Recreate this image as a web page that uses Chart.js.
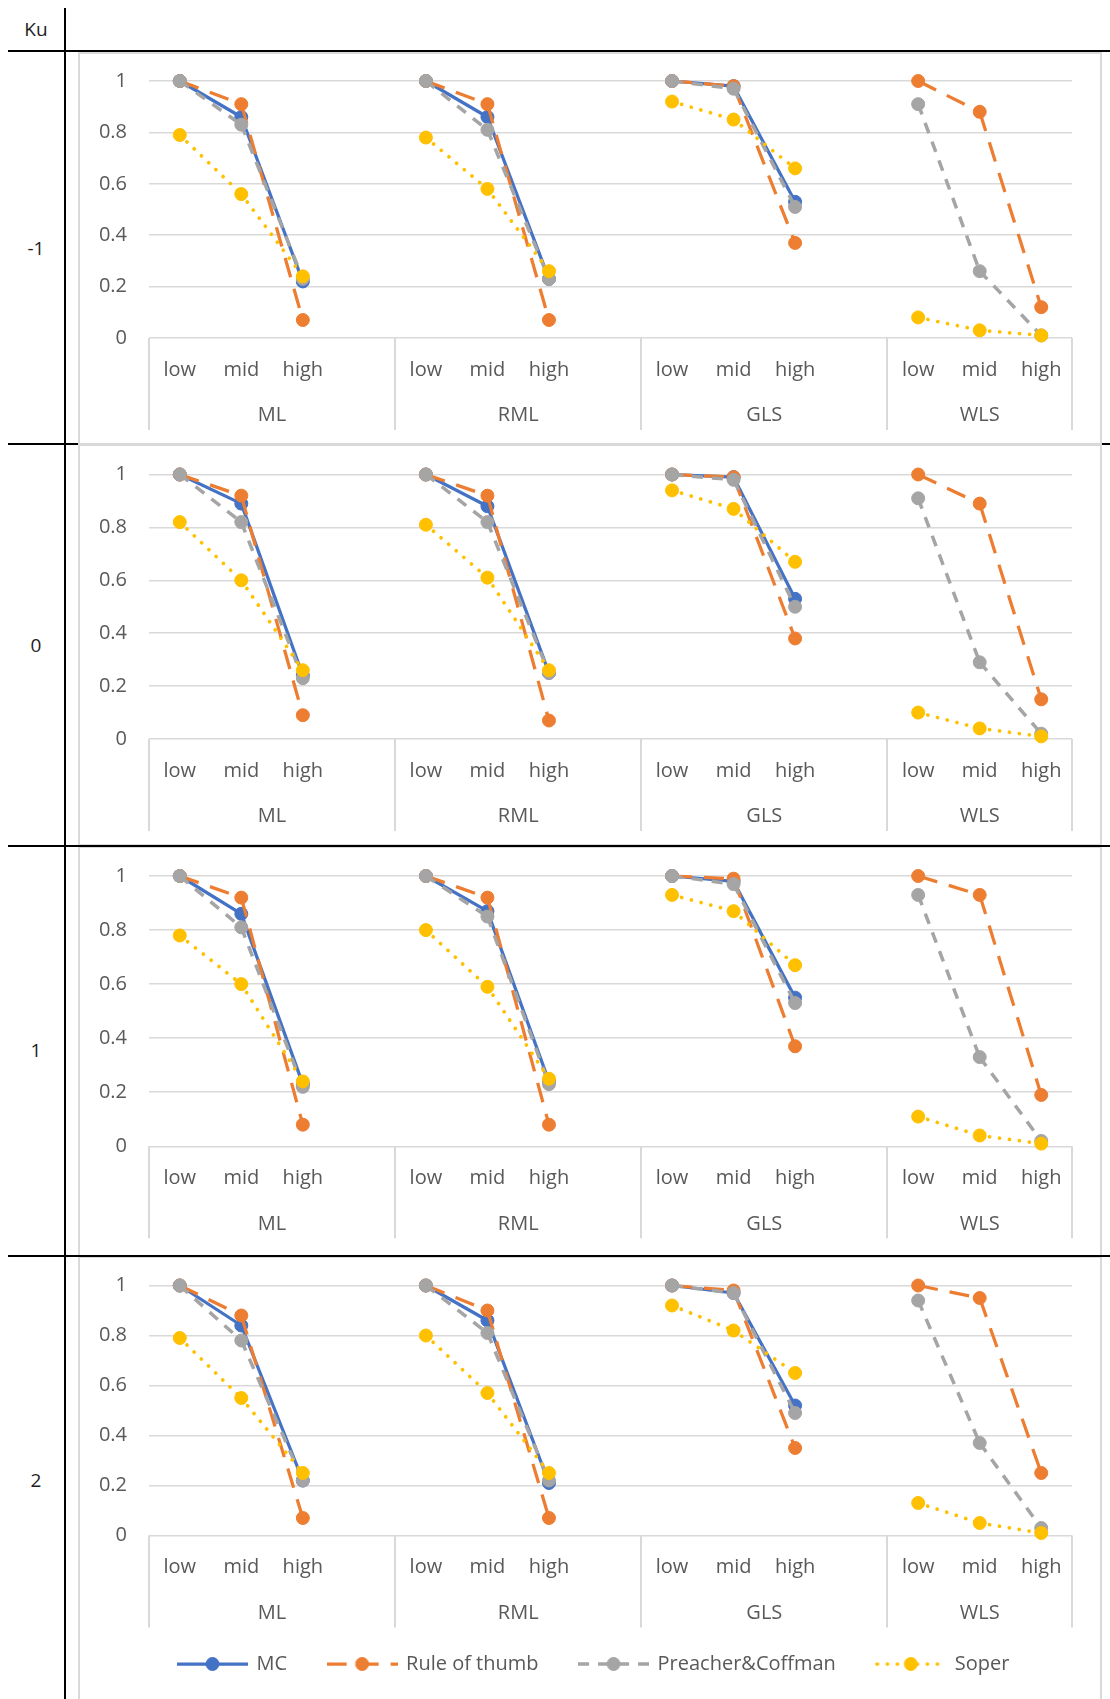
<!DOCTYPE html>
<html>
<head>
<meta charset="utf-8">
<title>Ku panels</title>
<script src="https://cdn.jsdelivr.net/npm/chart.js@4.4.1/dist/chart.umd.min.js"></script>
<style>
  html, body { margin: 0; padding: 0; background: #fff; }
  body { width: 1110px; height: 1699px; position: relative; overflow: hidden; font-family: "Open Sans", sans-serif; }
  .hline { position: absolute; left: 8px; right: 0; height: 2px; background: #000; }
  .vline { position: absolute; left: 64px; top: 8px; bottom: 0; width: 2px; background: #000; z-index: 3; }
  .rowlab { position: absolute; left: 0; width: 72px; text-align: center; font-size: 19px; line-height: 24px; color: #1e1e1e; transform: translateY(-50%); }
  .panel { position: absolute; left: 78px; width: 1024px; border: 2px solid #d9d9d9; box-sizing: border-box; background: #fff; z-index: 1; }
  .panel canvas { position: absolute; left: -2px; top: -2px; }
</style>
</head>
<body>
<div class="vline"></div>
<div class="rowlab" style="top:29px">Ku</div>

<script>
// ---- categories and tick labels ----
const kuLevels = ['-1', '0', '1', '2'];
const groups = ['ML', 'RML', 'GLS', 'WLS'];
const levels = ['low', 'mid', 'high'];
const seriesNames = ['MC', 'Rule of thumb', 'Preacher&Coffman', 'Soper'];
const yTickValues = [0, 0.2, 0.4, 0.6, 0.8, 1];
const yTickLabels = ['0', '0.2', '0.4', '0.6', '0.8', '1'];

// ---- series values, ordered ML, RML, GLS, WLS × low, mid, high ----
// Ku = -1
const mcKuNeg1    = [1.00, 0.86, 0.22,  1.00, 0.86, 0.23,  1.00, 0.98, 0.53,  null, null, null];
const ruleKuNeg1  = [1.00, 0.91, 0.07,  1.00, 0.91, 0.07,  1.00, 0.98, 0.37,  1.00, 0.88, 0.12];
const pcKuNeg1    = [1.00, 0.83, 0.23,  1.00, 0.81, 0.23,  1.00, 0.97, 0.51,  0.91, 0.26, 0.01];
const soperKuNeg1 = [0.79, 0.56, 0.24,  0.78, 0.58, 0.26,  0.92, 0.85, 0.66,  0.08, 0.03, 0.01];
// Ku = 0
const mcKu0       = [1.00, 0.89, 0.24,  1.00, 0.88, 0.25,  1.00, 0.99, 0.53,  null, null, null];
const ruleKu0     = [1.00, 0.92, 0.09,  1.00, 0.92, 0.07,  1.00, 0.99, 0.38,  1.00, 0.89, 0.15];
const pcKu0       = [1.00, 0.82, 0.23,  1.00, 0.82, 0.25,  1.00, 0.98, 0.50,  0.91, 0.29, 0.02];
const soperKu0    = [0.82, 0.60, 0.26,  0.81, 0.61, 0.26,  0.94, 0.87, 0.67,  0.10, 0.04, 0.01];
// Ku = 1
const mcKu1       = [1.00, 0.86, 0.23,  1.00, 0.87, 0.24,  1.00, 0.98, 0.55,  null, null, null];
const ruleKu1     = [1.00, 0.92, 0.08,  1.00, 0.92, 0.08,  1.00, 0.99, 0.37,  1.00, 0.93, 0.19];
const pcKu1       = [1.00, 0.81, 0.22,  1.00, 0.85, 0.23,  1.00, 0.97, 0.53,  0.93, 0.33, 0.02];
const soperKu1    = [0.78, 0.60, 0.24,  0.80, 0.59, 0.25,  0.93, 0.87, 0.67,  0.11, 0.04, 0.01];
// Ku = 2
const mcKu2       = [1.00, 0.84, 0.22,  1.00, 0.86, 0.21,  1.00, 0.97, 0.52,  null, null, null];
const ruleKu2     = [1.00, 0.88, 0.07,  1.00, 0.90, 0.07,  1.00, 0.98, 0.35,  1.00, 0.95, 0.25];
const pcKu2       = [1.00, 0.78, 0.22,  1.00, 0.81, 0.22,  1.00, 0.97, 0.49,  0.94, 0.37, 0.03];
const soperKu2    = [0.79, 0.55, 0.25,  0.80, 0.57, 0.25,  0.92, 0.82, 0.65,  0.13, 0.05, 0.01];

const panelSeries = [
  [mcKuNeg1, ruleKuNeg1, pcKuNeg1, soperKuNeg1],
  [mcKu0, ruleKu0, pcKu0, soperKu0],
  [mcKu1, ruleKu1, pcKu1, soperKu1],
  [mcKu2, ruleKu2, pcKu2, soperKu2]
];

// ---- layout of the table rows and chart boxes (page pixels) ----
const rowLines = [{ y: 50, over: true }, { y: 443, over: false }, { y: 845, over: true }, { y: 1255, over: true }];
const rowLabelY = [248, 645, 1050, 1480];
const panelBoxes = [
  { top: 52,   height: 393, canvasH: 393, plotTop: 29,   plotBottom: 286 },
  { top: 444,  height: 402, canvasH: 402, plotTop: 30.5, plotBottom: 295 },
  { top: 846,  height: 411, canvasH: 411, plotTop: 30,   plotBottom: 300.3 },
  { top: 1256, height: 470, canvasH: 428, plotTop: 29.5, plotBottom: 279.5 }
];
const legendPad = 41;
const legendFont = 20;
const legendShift = 38;

// ---- line styles per series ----
const seriesStyles = [
  { color: '#4472C4', dash: [],         width: 3.25, cap: 'butt',  order: 4 },
  { color: '#ED7D31', dash: [20, 12],   width: 3.25, cap: 'butt',  order: 3 },
  { color: '#A5A5A5', dash: [11, 9],    width: 3.5,  cap: 'butt',  order: 2 },
  { color: '#FFC000', dash: [0.01, 10], width: 3.75, cap: 'round', order: 1 }
];

Chart.defaults.font.family = '"Open Sans", sans-serif';
Chart.defaults.font.size = 20;
Chart.defaults.color = '#595959';

// x labels: low/mid/high per group, a blank slot between groups
const xLabels = [];
const slotStart = [];
groups.forEach((g, gi) => {
  slotStart.push(xLabels.length);
  levels.forEach(l => xLabels.push(l));
  if (gi < groups.length - 1) xLabels.push('');
});
function spread(values) {
  const out = [];
  groups.forEach((g, gi) => {
    levels.forEach((l, li) => out.push(values[gi * levels.length + li]));
    if (gi < groups.length - 1) out.push(null);
  });
  return out;
}
function groupSpan(gi) {
  const start = slotStart[gi] - 0.5;
  const end = gi < groups.length - 1 ? slotStart[gi + 1] - 0.5 : xLabels.length - 0.5;
  return [start, end];
}

// group separators and group names under the category labels
const groupAxisPlugin = {
  id: 'groupAxis',
  afterLayout(chart) {
    if (chart.legend && chart.legend.options.display) chart.legend.left += legendShift;
  },
  afterDraw(chart) {
    const xs = chart.scales.x, area = chart.chartArea, ctx = chart.ctx;
    ctx.save();
    ctx.strokeStyle = '#d9d9d9';
    ctx.lineWidth = 2;
    const bounds = new Set();
    groups.forEach((g, gi) => groupSpan(gi).forEach(b => bounds.add(b)));
    bounds.forEach(b => {
      const px = Math.round(xs.getPixelForValue(b));
      ctx.beginPath();
      ctx.moveTo(px, area.bottom);
      ctx.lineTo(px, area.bottom + 92);
      ctx.stroke();
    });
    ctx.fillStyle = '#595959';
    ctx.font = '20px "Open Sans", sans-serif';
    ctx.textAlign = 'center';
    ctx.textBaseline = 'middle';
    groups.forEach((g, gi) => {
      const [s, e] = groupSpan(gi);
      ctx.fillText(g, xs.getPixelForValue((s + e) / 2), area.bottom + 77.5);
    });
    ctx.restore();
  }
};

function legendSample(st) {
  const c = document.createElement('canvas');
  c.width = 71; c.height = 16;
  const g = c.getContext('2d');
  g.strokeStyle = st.color;
  g.lineWidth = st.width;
  g.lineCap = st.cap;
  g.setLineDash(st.dash);
  g.beginPath();
  g.moveTo(st.cap === 'round' ? 2 : 0, 8);
  g.lineTo(71, 8);
  g.stroke();
  g.setLineDash([]);
  g.fillStyle = st.color;
  g.lineWidth = 1;
  g.beginPath();
  g.arc(35.5, 8, 6.5, 0, Math.PI * 2);
  g.fill();
  g.stroke();
  return c;
}
const legendSamples = seriesStyles.map(legendSample);

// table lines and row labels
rowLines.forEach(r => {
  const d = document.createElement('div');
  d.className = 'hline';
  d.style.top = r.y + 'px';
  d.style.zIndex = r.over ? 2 : 0;
  document.body.appendChild(d);
});
kuLevels.forEach((k, i) => {
  const d = document.createElement('div');
  d.className = 'rowlab';
  d.style.top = rowLabelY[i] + 'px';
  d.textContent = k;
  document.body.appendChild(d);
});

panelBoxes.forEach((box, pi) => {
  const isLast = pi === panelBoxes.length - 1;
  const wrap = document.createElement('div');
  wrap.className = 'panel';
  wrap.style.top = box.top + 'px';
  wrap.style.height = box.height + 'px';
  const cv = document.createElement('canvas');
  cv.width = 1024; cv.height = box.canvasH;
  cv.style.width = '1024px'; cv.style.height = box.canvasH + 'px';
  wrap.appendChild(cv);
  document.body.appendChild(wrap);

  const legendH = isLast ? legendPad + legendFont + 10 : 0;
  const xAxisH = box.canvasH - box.plotBottom - legendH;

  const datasets = panelSeries[pi].map((vals, si) => {
    const st = seriesStyles[si];
    return {
      label: seriesNames[si],
      data: spread(vals),
      order: st.order,
      borderColor: st.color,
      backgroundColor: st.color,
      borderWidth: st.width,
      borderDash: st.dash,
      borderCapStyle: st.cap,
      borderJoinStyle: 'round',
      pointRadius: 6.5,
      pointBorderWidth: 1,
      pointBackgroundColor: st.color,
      pointBorderColor: st.color,
      tension: 0,
      spanGaps: false,
      clip: false,
      segment: { borderDashOffset: c => c.p0DataIndex * 0.001 }
    };
  });

  new Chart(cv, {
    type: 'line',
    data: { labels: xLabels, datasets },
    plugins: [groupAxisPlugin],
    options: {
      responsive: false,
      animation: false,
      events: [],
      layout: { autoPadding: false, padding: { left: 0, right: 30, top: box.plotTop, bottom: 0 } },
      scales: {
        x: {
          type: 'category',
          offset: true,
          grid: { display: false },
          border: { display: false },
          ticks: { autoSkip: false, maxRotation: 0, padding: 12, color: '#595959', font: { size: 20 } },
          afterFit: s => { s.height = xAxisH; s.paddingLeft = 0; s.paddingRight = 0; }
        },
        y: {
          min: 0,
          max: 1,
          afterBuildTicks: s => { s.ticks = yTickValues.map(v => ({ value: v })); },
          grid: { color: '#d9d9d9', lineWidth: 1.5, drawTicks: false },
          border: { display: false },
          ticks: { padding: 22, color: '#595959', font: { size: 20 }, callback: (v, i) => yTickLabels[i] },
          afterFit: s => { s.width = 71; s.paddingTop = 0; s.paddingBottom = 0; }
        }
      },
      plugins: {
        tooltip: { enabled: false },
        legend: {
          display: isLast,
          position: 'bottom',
          labels: {
            usePointStyle: true,
            pointStyleWidth: 68,
            padding: legendPad,
            color: '#595959',
            font: { size: legendFont },
            sort: (a, b) => a.datasetIndex - b.datasetIndex,
            generateLabels: chart => Chart.defaults.plugins.legend.labels.generateLabels(chart)
              .map(item => Object.assign(item, { pointStyle: legendSamples[item.datasetIndex] }))
          }
        }
      }
    }
  });
});
</script>
</body>
</html>
